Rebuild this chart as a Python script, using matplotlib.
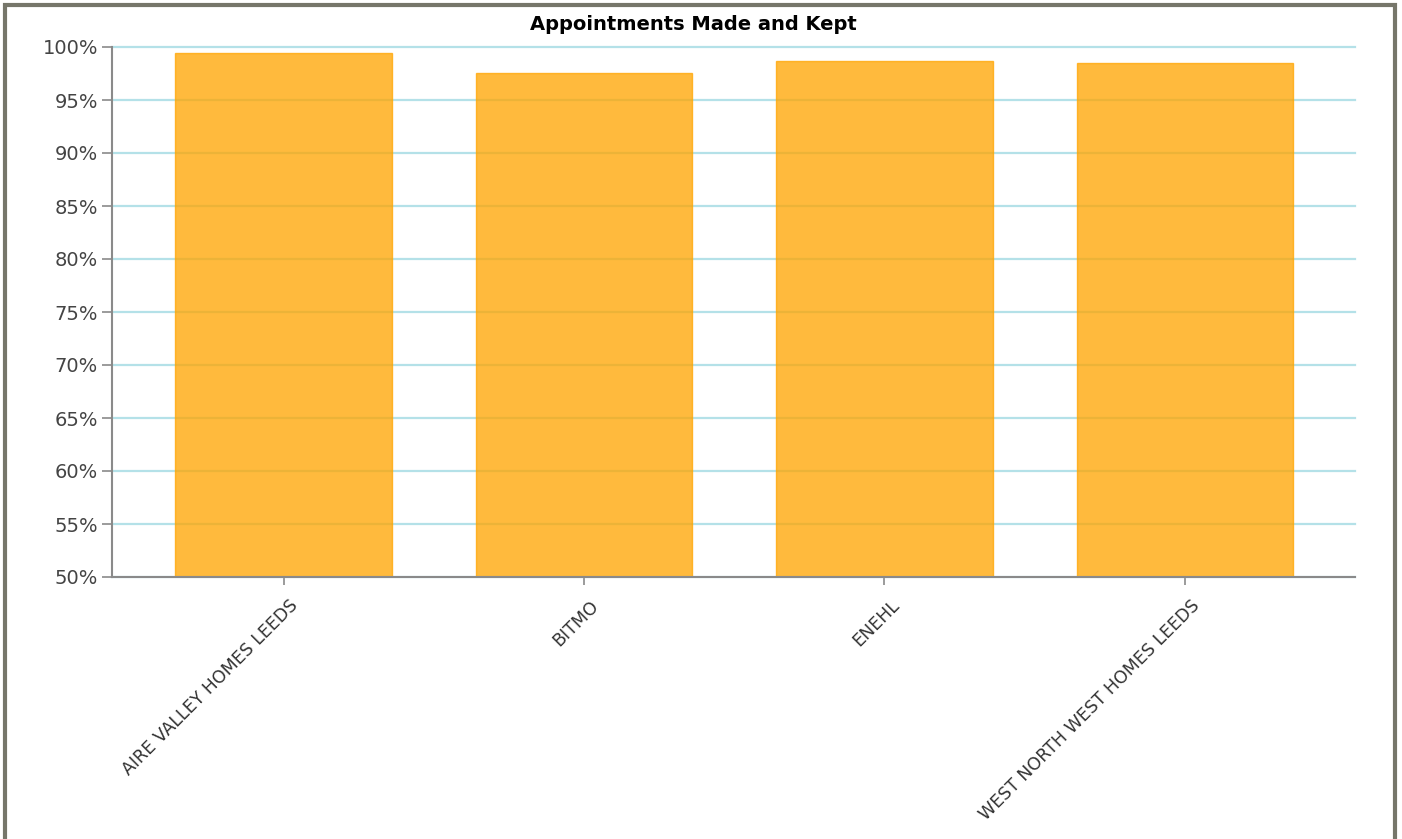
import matplotlib
matplotlib.use("Agg")
import matplotlib.pyplot as plt
from matplotlib.patches import Rectangle
from matplotlib.ticker import FuncFormatter, MultipleLocator
import matplotlib.transforms as mtransforms

title = "Appointments Made and Kept"
categories = ["AIRE VALLEY HOMES LEEDS", "BITMO", "ENEHL", "WEST NORTH WEST HOMES LEEDS"]
values = [99.4, 97.55, 98.7, 98.5]

W, H = 1402, 839
fig = plt.figure(figsize=(W / 100, H / 100), dpi=100)
fig.patch.set_facecolor("white")

# axes placement in pixels
left, right, top, bottom = 112, 1355, 47, 577
ax = fig.add_axes([left / W, 1 - bottom / H, (right - left) / W, (bottom - top) / H])

x = list(range(len(categories)))
ax.bar(x, values, width=0.72, color="#FFA500", alpha=0.76, edgecolor="#FFA500",
       linewidth=1.0, zorder=2)

ax.set_ylim(50, 100)
ax.set_xlim(-0.571, 3.566)
ax.yaxis.set_major_locator(MultipleLocator(5))
ax.yaxis.set_major_formatter(FuncFormatter(lambda v, p: f"{int(round(v))}%"))
ax.set_axisbelow(True)
ax.grid(axis="y", color="#B4E1E8", linewidth=1.6, zorder=0)
ax.grid(axis="x", visible=False)
for gl in ax.yaxis.get_gridlines():
    gl.set_clip_on(False)

for s in ["top", "right"]:
    ax.spines[s].set_visible(False)
for s in ["left", "bottom"]:
    ax.spines[s].set_color("#8a8a8a")
    ax.spines[s].set_linewidth(1.5)

ax.tick_params(axis="y", length=7, width=1.2, color="#8a8a8a", labelcolor="#444444",
               labelsize=14, pad=3)
ax.tick_params(axis="x", length=6, width=1.2, color="#8a8a8a", labelcolor="#333333",
               labelsize=12.5, pad=4)
ax.set_xticks(x)
ax.set_xticklabels(categories, rotation=45, ha="right", va="center",
                   rotation_mode="anchor")
for lbl in ax.get_xticklabels():
    lbl.set_transform(lbl.get_transform() + mtransforms.ScaledTranslation(
        12 / 100, -12 / 100, fig.dpi_scale_trans))

fig.text(693 / W, 1 - 24 / H, title, ha="center", va="center", fontsize=14,
         fontweight="bold", color="#000000")

# outer frame
fig.patches.append(Rectangle((5 / W, -0.05), (1395 - 5) / W, 1.05 - 5 / H,
                             transform=fig.transFigure, fill=False,
                             edgecolor="#76766a", linewidth=3, zorder=10))

fig.savefig("out.png", dpi=100, facecolor="white")
